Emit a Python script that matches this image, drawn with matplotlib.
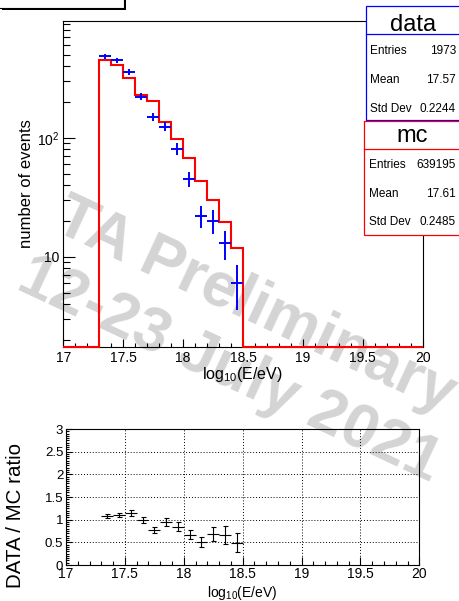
import numpy as np
import matplotlib
matplotlib.use('Agg')
import matplotlib.pyplot as plt
from matplotlib.patches import Rectangle
from matplotlib.lines import Line2D
from matplotlib.ticker import MultipleLocator, LogLocator, NullFormatter

plt.rcParams['font.family'] = ['Liberation Sans', 'DejaVu Sans']
plt.rcParams['mathtext.fontset'] = 'custom'
plt.rcParams['mathtext.rm'] = 'Liberation Sans'
plt.rcParams['mathtext.it'] = 'Liberation Sans:italic'
plt.rcParams['mathtext.bf'] = 'Liberation Sans:bold'

# ---------------- data ----------------
bin_centers = [17.35, 17.45, 17.55, 17.65, 17.75, 17.85, 17.95, 18.05, 18.15, 18.25, 18.35, 18.45]
data_counts = [485, 449, 356, 222, 150, 124, 81, 45, 22, 20, 13, 6]
mc_counts = [447, 410, 318, 228, 202, 135, 98, 68, 43.6, 30, 19.6, 11.8]
ratio = [1.083, 1.105, 1.142, 0.995, 0.774, 0.943, 0.847, 0.663, 0.50, 0.678, 0.663, 0.494]
ratio_err = [0.049, 0.052, 0.061, 0.067, 0.063, 0.085, 0.094, 0.099, 0.107, 0.152, 0.19, 0.21]
bin_width = 0.1
x_range = (17.0, 20.0)
x_ticks = [17, 17.5, 18, 18.5, 19, 19.5, 20]
x_tick_labels = ['17', '17.5', '18', '18.5', '19', '19.5', '20']
log_yticks = [10, 100]
log_ytick_labels = ['10', '10$^{2}$']
ratio_yticks = [0, 0.5, 1, 1.5, 2, 2.5, 3]
ratio_ytick_labels = ['0', '0.5', '1', '1.5', '2', '2.5', '3']
data_stats = [('Entries', '1973'), ('Mean', '17.57'), ('Std Dev', '0.2244')]
mc_stats = [('Entries', '639195'), ('Mean', '17.61'), ('Std Dev', '0.2485')]
watermark_lines = ['TA Preliminary', '12-23 July 2021']
xlabel = 'log$_{10}$(E/eV)'
ylabel_top = 'number of events'
ylabel_ratio = 'DATA / MC ratio'

# ---------------- layout ----------------
W, H = 459, 601
fig = plt.figure(figsize=(W / 100, H / 100), dpi=100)


def fx(x):
    return x / W


def fy(y):
    return 1 - y / H


YMIN, YMAX = 1.754, 957

ax1 = fig.add_axes([fx(63.3), fy(346.7), (422.7 - 63.3) / W, (346.7 - 21) / H])
ax2 = fig.add_axes([fx(66), fy(565), (419.3 - 66) / W, (565 - 429) / H])
for ax in (ax1, ax2):
    ax.set_facecolor('none')
    for s in ax.spines.values():
        s.set_linewidth(0.8)

# ---------------- top panel ----------------
ax1.set_yscale('log')
nb = int(round((x_range[1] - x_range[0]) / bin_width))
edges = np.linspace(x_range[0], x_range[1], nb + 1)
full_mc = np.zeros(nb)
i0 = int(round((bin_centers[0] - bin_width / 2 - x_range[0]) / bin_width))
full_mc[i0:i0 + len(mc_counts)] = mc_counts
mc_draw = np.where(full_mc > 0, full_mc, YMIN)
ax1.stairs(mc_draw, edges, baseline=None, color='red', linewidth=1.5, clip_on=False, zorder=3)

dc = np.array(data_counts, dtype=float)
ax1.errorbar(bin_centers, dc, xerr=bin_width / 2, yerr=np.sqrt(dc), fmt='none',
             ecolor='blue', elinewidth=1.4, capsize=0, zorder=4)

ax1.set_xlim(*x_range)
ax1.set_ylim(YMIN, YMAX)
ax1.set_xticks(x_ticks)
ax1.set_xticklabels(x_tick_labels)
ax1.xaxis.set_minor_locator(MultipleLocator(0.1))
ax1.set_yticks(log_yticks)
ax1.set_yticklabels(log_ytick_labels)
ax1.yaxis.set_minor_locator(LogLocator(base=10, subs=np.arange(2, 10)))
ax1.yaxis.set_minor_formatter(NullFormatter())
ax1.tick_params(which='both', direction='in', top=False, right=False, width=0.8, labelsize=10)
ax1.tick_params(axis='x', which='major', length=5.8, pad=3)
ax1.tick_params(axis='x', which='minor', length=2.9)
ax1.tick_params(axis='y', which='major', length=8.4, pad=3)
ax1.tick_params(axis='y', which='minor', length=4.8)

fig.text(fx(27), fy(184), ylabel_top, rotation=90, ha='center', va='center', fontsize=12)
fig.text(fx(242), fy(379), xlabel, ha='center', va='baseline', fontsize=11.5)

# ---------------- ratio panel ----------------
ax2.errorbar(bin_centers, ratio, yerr=ratio_err, fmt='none', ecolor='black',
             elinewidth=0.8, capsize=1.8, capthick=0.8, zorder=4)
ax2.errorbar(bin_centers, ratio, xerr=bin_width / 2, fmt='none', ecolor='black',
             elinewidth=0.8, capsize=0, zorder=4)
ax2.set_xlim(*x_range)
ax2.set_ylim(ratio_yticks[0], ratio_yticks[-1])
ax2.set_xticks(x_ticks)
ax2.set_xticklabels(x_tick_labels)
ax2.xaxis.set_minor_locator(MultipleLocator(0.1))
ax2.set_yticks(ratio_yticks)
ax2.set_yticklabels(ratio_ytick_labels)
ax2.yaxis.set_minor_locator(MultipleLocator(0.05))
ax2.grid(True, which='major', color='black', linestyle=(0, (1, 2)), linewidth=0.7)
ax2.tick_params(which='both', direction='in', top=False, right=False, width=0.8)
ax2.tick_params(axis='x', which='major', length=6, pad=1.5, labelsize=10)
ax2.tick_params(axis='x', which='minor', length=3)
ax2.tick_params(axis='y', which='major', length=4, pad=2, labelsize=9.5)
ax2.tick_params(axis='y', which='minor', length=2)

fig.text(fx(16), fy(515), ylabel_ratio, rotation=90, ha='center', va='center', fontsize=14.8)
fig.text(fx(242), fy(597), xlabel, ha='center', va='baseline', fontsize=10)

# ---------------- stats boxes ----------------


def stat_box(x0, y0, y1, ysep, color, title, title_base, rows, row_bases, lx, vx):
    fig.patches.append(Rectangle((fx(x0), fy(y1)), (W + 20 - x0) / W, (y1 - y0) / H,
                                 transform=fig.transFigure, facecolor='white',
                                 edgecolor=color, linewidth=0.9, zorder=5))
    fig.lines.append(Line2D([fx(x0), fx(W + 5)], [fy(ysep), fy(ysep)],
                            transform=fig.transFigure, color=color, linewidth=0.9, zorder=6))
    fig.text(fx((x0 + W) / 2 + 0.5), fy(title_base), title, ha='center', va='baseline',
             fontsize=17, zorder=7)
    for (lab, val), b in zip(rows, row_bases):
        fig.text(fx(lx), fy(b), lab, ha='left', va='baseline', fontsize=8.5, zorder=7)
        fig.text(fx(vx), fy(b), val, ha='right', va='baseline', fontsize=8.5, zorder=7)


stat_box(365.7, 6, 120, 34.3, 'blue', 'data', 30.7, data_stats, [54.3, 83.3, 111.7], 370, 456)
stat_box(364.3, 121, 235, 149, 'red', 'mc', 141.7, mc_stats, [168.3, 196.7, 225], 369, 456)

# ---------------- title box (top-left, mostly off-canvas) ----------------
fig.patches.append(Rectangle((fx(2), fy(9.5)), 124 / W, 15 / H, transform=fig.transFigure,
                             facecolor='black', edgecolor='none', zorder=5))
fig.patches.append(Rectangle((fx(-2), fy(7.5)), 125.5 / W, 13 / H, transform=fig.transFigure,
                             facecolor='white', edgecolor='black', linewidth=0.8, zorder=6))

# ---------------- watermark ----------------
fig.text(fx(248), fy(321), watermark_lines[0], rotation=-25, rotation_mode='anchor',
         ha='center', va='baseline', fontsize=45, fontweight='bold', color='#d4d4d4', zorder=-1)
fig.text(fx(222), fy(385), watermark_lines[1], rotation=-25, rotation_mode='anchor',
         ha='center', va='baseline', fontsize=45, fontweight='bold', color='#d4d4d4', zorder=-1)

fig.savefig('out.png', dpi=100, facecolor='white')
